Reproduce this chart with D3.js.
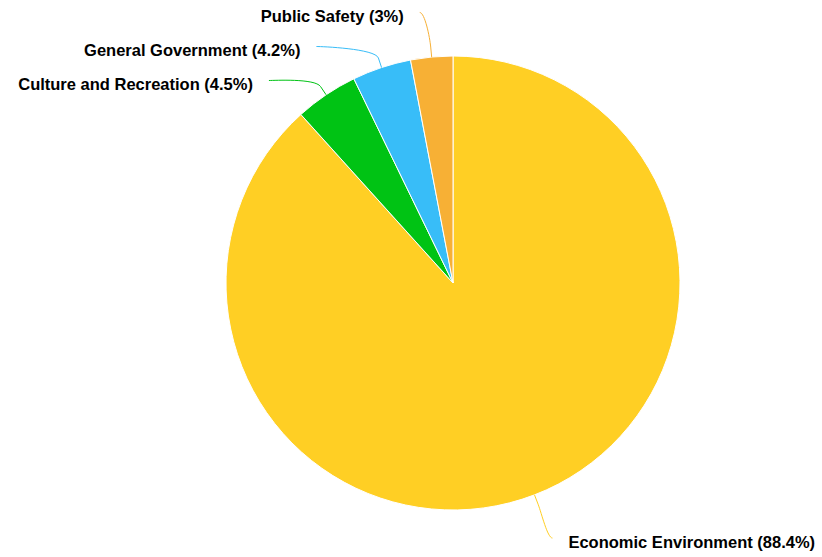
<!doctype html>
<meta charset="utf-8">
<style>
body {
  margin: 0;
  background: #fff;
}
text {
  font-family: "Liberation Sans", Arial, sans-serif;
  font-weight: bold;
  font-size: 16.5px;
  fill: #000;
}
</style>
<script src="https://cdn.jsdelivr.net/npm/d3@7"></script>
<body>

<script>

var w = 822, h = 557;

// data
var categories = ["Economic Environment", "Culture and Recreation", "General Government", "Public Safety"];
var shares = [88.4, 4.5, 4.2, 3];
var colors = ["#ffcf24", "#00c314", "#38bdf8", "#f7b035"];

var cx = 453, cy = 283, r = 227;
var labelDist = 50, spacing = 34;

var svg = d3.select("body")
  .append("svg")
    .attr("width", w)
    .attr("height", h);

var data = categories.map(function(c, i) {
  return {name: c, value: shares[i], color: colors[i]};
});

var pie = d3.pie()
    .sort(null)
    .value(function(d) { return d.value; });

var arcs = pie(data);

var arc = d3.arc()
    .innerRadius(0)
    .outerRadius(r);

var g = svg.append("g")
    .attr("transform", "translate(" + cx + "," + cy + ")");

g.selectAll("path.slice")
  .data(arcs)
  .enter().append("path")
    .attr("class", "slice")
    .attr("d", arc)
    .style("fill", function(d) { return d.data.color; })
    .style("stroke", "#fff")
    .style("stroke-width", 1)
    .style("stroke-linejoin", "round");

// label layout: natural position, then push apart per side
arcs.forEach(function(d) {
  d.mid = (d.startAngle + d.endAngle) / 2;
  d.left = Math.sin(d.mid) < 0;
  d.ly = -Math.cos(d.mid) * (r + labelDist);
});

function spread(list, minY, maxY) {
  list.sort(function(a, b) { return a.ly - b.ly; });
  for (var it = 0; it < 200; it++) {
    for (var i = 1; i < list.length; i++) {
      var diff = list[i].ly - list[i - 1].ly;
      if (diff < spacing) {
        var o = (spacing - diff) / 2;
        list[i - 1].ly -= o;
        list[i].ly += o;
      }
    }
  }
  for (var i = 0; i < list.length; i++) {
    var lo = i == 0 ? minY : list[i - 1].ly + spacing;
    list[i].ly = Math.max(list[i].ly, lo);
  }
  for (var i = list.length - 1; i >= 0; i--) {
    var hi = i == list.length - 1 ? maxY : list[i + 1].ly - spacing;
    list[i].ly = Math.min(list[i].ly, hi);
  }
}

spread(arcs.filter(function(d) { return d.left; }), 16 - cy, h - 15 - cy);
spread(arcs.filter(function(d) { return !d.left; }), 16 - cy, h - 15 - cy);

var R = r + labelDist;
arcs.forEach(function(d) {
  var yy = d.ly < 0 ? d.ly - 8 : d.ly;
  var dx = Math.sqrt(Math.max(0, R * R - yy * yy));
  d.lx = d.left ? -dx : dx;
});

// connectors (soft curve to a break point, then straight to the slice)
g.selectAll("path.connector")
  .data(arcs)
  .enter().append("path")
    .attr("class", "connector")
    .attr("d", function(d) {
      var s = Math.sin(d.mid), c = -Math.cos(d.mid);
      var tx = s * r, ty = c * r;
      var bx = s * (r + labelDist / 5), by = c * (r + labelDist / 5);
      var ax = d.lx, ay = d.ly - 3.5;
      var p = d3.path();
      p.moveTo(ax, ay);
      p.bezierCurveTo(ax + (d.left ? 5 : -5), ay, 2 * bx - tx, 2 * by - ty, bx, by);
      p.lineTo(tx, ty);
      return p.toString();
    })
    .style("fill", "none")
    .style("stroke", function(d) { return d.data.color; })
    .style("stroke-width", 1);

g.selectAll("text.label")
  .data(arcs)
  .enter().append("text")
    .attr("class", "label")
    .attr("x", function(d) { return d.lx + (d.left ? -16 : 16); })
    .attr("y", function(d) { return d.ly + 6; })
    .attr("text-anchor", function(d) { return d.left ? "end" : "start"; })
    .text(function(d) { return d.data.name + " (" + d.data.value + "%)"; });

</script>
